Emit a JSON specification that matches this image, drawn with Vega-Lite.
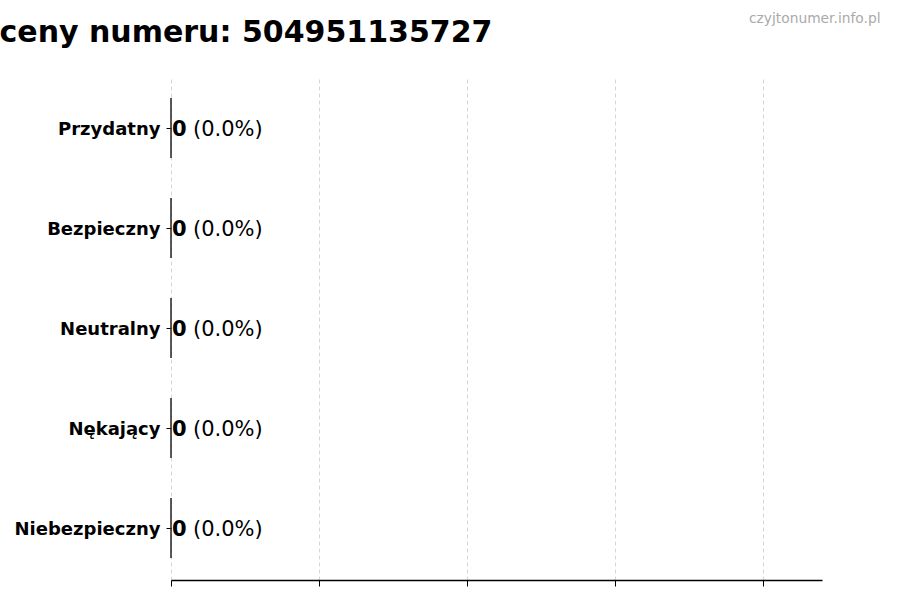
{
  "$schema": "https://vega.github.io/schema/vega-lite/v6.json",
  "width": 651,
  "height": 504,
  "autosize": {"type": "none"},
  "padding": {"left": 171, "top": 76, "right": 78, "bottom": 20},
  "background": "white",
  "config": {
    "view": {"stroke": null},
    "font": "DejaVu Sans"
  },
  "title": {
    "text": "Oceny numeru: 504951135727",
    "anchor": "start",
    "frame": "group",
    "dx": -197,
    "fontSize": 30,
    "fontWeight": "bold",
    "font": "DejaVu Sans",
    "color": "black",
    "baseline": "alphabetic",
    "offset": -61
  },
  "data": {
    "values": [
      {"category": "Przydatny", "count": 0, "pct": "(0.0%)"},
      {"category": "Bezpieczny", "count": 0, "pct": "(0.0%)"},
      {"category": "Neutralny", "count": 0, "pct": "(0.0%)"},
      {"category": "Nękający", "count": 0, "pct": "(0.0%)"},
      {"category": "Niebezpieczny", "count": 0, "pct": "(0.0%)"}
    ]
  },
  "encoding": {
    "y": {
      "field": "category",
      "type": "nominal",
      "sort": null,
      "scale": {"paddingInner": 0.4, "paddingOuter": 0.22},
      "axis": {
        "title": null,
        "domain": false,
        "ticks": true,
        "tickSize": 5,
        "tickColor": "black",
        "labelFont": "DejaVu Sans",
        "labelFontSize": 18,
        "labelFontWeight": "bold",
        "labelColor": "black",
        "labelPadding": 6,
        "labelOffset": 2,
        "grid": false
      }
    }
  },
  "layer": [
    {
      "mark": {"type": "bar", "fill": "#4c72b0", "stroke": "#222", "strokeWidth": 1},
      "encoding": {
        "x": {
          "field": "count",
          "type": "quantitative",
          "scale": {"domain": [0, 4.4], "nice": false, "zero": true},
          "axis": {
            "title": null,
            "values": [0, 1, 2, 3, 4],
            "labels": false,
            "ticks": true,
            "tickSize": 6,
            "tickColor": "black",
            "domain": true,
            "domainColor": "black",
            "domainWidth": 1.5,
            "grid": true,
            "gridColor": "#cccccc",
            "gridDash": [4, 3],
            "gridWidth": 0.8
          }
        }
      }
    },
    {
      "mark": {"type": "text", "align": "left", "baseline": "middle", "dx": 1, "dy": 2, "fontSize": 21, "fontWeight": "bold", "font": "DejaVu Sans", "color": "black"},
      "encoding": {
        "x": {"field": "count", "type": "quantitative", "axis": null},
        "text": {"field": "count", "type": "quantitative"}
      }
    },
    {
      "mark": {"type": "text", "align": "left", "baseline": "middle", "dx": 22, "dy": 2, "fontSize": 21, "font": "DejaVu Sans", "color": "black"},
      "encoding": {
        "x": {
          "field": "count",
          "type": "quantitative",
          "axis": {
            "orient": "top",
            "labels": false,
            "ticks": false,
            "domain": false,
            "grid": false,
            "title": "czyjtonumer.info.pl",
            "titleColor": "#aaaaaa",
            "titleFont": "DejaVu Sans",
            "titleFontSize": 13.8,
            "titleFontWeight": "normal",
            "titleAlign": "right",
            "titleAnchor": null,
            "titleX": 709,
            "titleY": -54,
            "titleBaseline": "alphabetic"
          }
        },
        "text": {"field": "pct", "type": "nominal"}
      }
    }
  ],
  "resolve": {"axis": {"x": "independent"}}
}
